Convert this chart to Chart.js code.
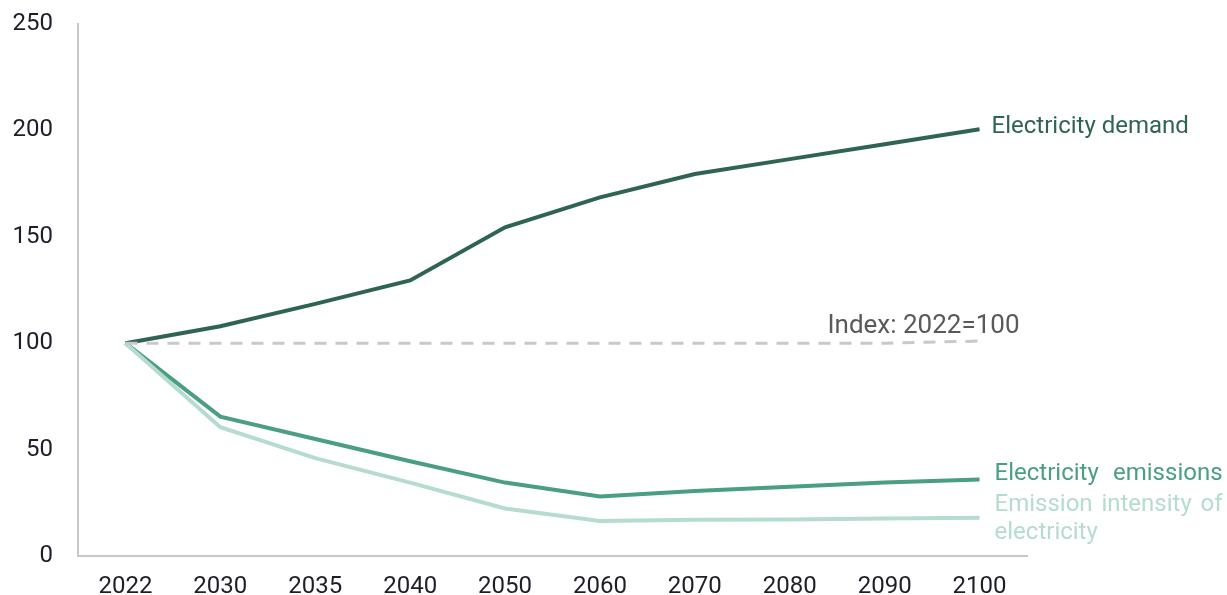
<!DOCTYPE html>
<html><head><meta charset="utf-8">
<script src="https://cdn.jsdelivr.net/npm/chart.js@4"></script>
<style>html,body{margin:0;padding:0;background:#fff}#wrap{width:1227px;height:595px}</style>
</head><body><div id="wrap"><canvas id="c" width="1227" height="595"></canvas></div>
<script>
const years = ['2022','2030','2035','2040','2050','2060','2070','2080','2090','2100'];
const demand = [100, 108, 118.5, 129.5, 154.5, 168.5, 179.5, 186.5, 193.5, 200.5];
const emissions = [100, 65.5, 55, 44.5, 34.5, 28, 30.5, 32.5, 34.5, 36];
const intensity = [100, 60.5, 46, 34.5, 22.3, 16.5, 17, 17.2, 17.6, 18];
const indexLine = [100, 100, 100, 100, 100, 100, 100, 100, 100, 101];
const yTicks = [0, 50, 100, 150, 200, 250];

const C_DEM = '#2f6452', C_EMI = '#4a9e84', C_INT = '#b6dbcf', C_IDX = '#c9c9c9';
const FONT = 'Roboto';
const LS = 0;

function wordWidth(ctx, w, ls){
  let s = 0;
  for (const ch of w) s += ctx.measureText(ch).width + ls;
  return s - ls;
}
function drawWord(ctx, w, x, y, ls){
  let cx = x;
  for (const ch of w){ ctx.fillText(ch, cx, y); cx += ctx.measureText(ch).width + ls; }
}
function justify(ctx, words, x, y, width, ls){
  const total = words.reduce((s,w)=>s+wordWidth(ctx,w,ls),0);
  const gap = (width-total)/(words.length-1);
  let cx = x;
  words.forEach(w=>{drawWord(ctx,w,cx,y,ls);cx+=wordWidth(ctx,w,ls)+gap;});
}

const labelPlugin = {
  id:'labels',
  afterDatasetsDraw(chart){
    const ctx = chart.ctx, xs = chart.scales.x, ys = chart.scales.y;
    const last = years.length-1;
    const xr = xs.getPixelForValue(last);
    ctx.save();
    ctx.textBaseline='middle';
    ctx.textAlign='left';
    ctx.font = '24px '+FONT;
    ctx.fillStyle = C_DEM;
    ctx.fillText('Electricity demand', xr+12, ys.getPixelForValue(demand[last])-2);
    ctx.fillStyle = C_EMI;
    justify(ctx, ['Electricity','emissions'], xr+15, ys.getPixelForValue(emissions[last])-5, 228, LS);
    ctx.fillStyle = C_INT;
    const yi = ys.getPixelForValue(intensity[last]);
    justify(ctx, ['Emission','intensity','of'], xr+15, yi-13, 228, LS);
    drawWord(ctx, 'electricity', xr+15, yi+15, LS);
    ctx.fillStyle = '#595959';
    ctx.textAlign='right';
    ctx.font = '26px '+FONT;
    ctx.fillText('Index: 2022=100', xr+40, ys.getPixelForValue(indexLine[last])-15);
    ctx.restore();
  }
};

new Chart(document.getElementById('c'),{
  type:'line',
  data:{labels:years,datasets:[
    {data:indexLine,borderColor:C_IDX,borderWidth:3,borderDash:[12,9],pointRadius:0,tension:0},
    {data:intensity,borderColor:C_INT,borderWidth:4,pointRadius:0,tension:0},
    {data:emissions,borderColor:C_EMI,borderWidth:4,pointRadius:0,tension:0},
    {data:demand,borderColor:C_DEM,borderWidth:4,pointRadius:0,tension:0}
  ]},
  options:{
    responsive:false,animation:false,
    layout:{padding:{top:24,right:200,bottom:0,left:0}},
    plugins:{legend:{display:false},tooltip:{enabled:false}},
    scales:{
      x:{offset:true,
        grid:{display:false,drawTicks:false},
        border:{display:true,color:'#c8c8c8',width:2},
        ticks:{color:'#1e1e28',font:{family:FONT,size:24},padding:17,maxRotation:0,autoSkip:false},
        afterFit(s){s.height=39;s.paddingLeft=0;s.paddingRight=0;}
      },
      y:{min:0,max:250,
        afterBuildTicks(s){s.ticks=yTicks.map(v=>({value:v}));},
        grid:{display:false,drawTicks:false},
        border:{display:true,color:'#c8c8c8',width:2},
        ticks:{color:'#1e1e28',font:{family:FONT,size:24},padding:25},
        afterFit(s){s.width=78;s.paddingTop=0;s.paddingBottom=0;}
      }
    }
  },
  plugins:[labelPlugin]
});
</script></body></html>
